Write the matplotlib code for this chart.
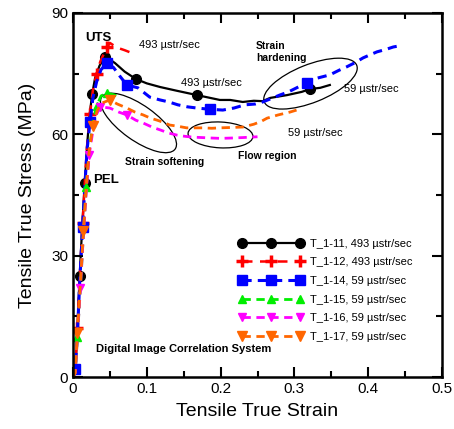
import matplotlib
matplotlib.use("Agg")
import matplotlib.pyplot as plt
import matplotlib.ticker as mt
from matplotlib.patches import Ellipse
from matplotlib.ticker import MultipleLocator

plt.rcParams['font.family'] = ['Liberation Sans', 'DejaVu Sans']

# T_1-11, 493 ustr/sec
strain_11 = [0, 0.003, 0.006, 0.009, 0.013, 0.016, 0.019, 0.022, 0.026, 0.030, 0.036, 0.043,
             0.050, 0.057, 0.070, 0.085, 0.100, 0.118, 0.140, 0.168, 0.199, 0.213, 0.230,
             0.245, 0.257, 0.267, 0.290, 0.310, 0.321, 0.335, 0.348]
stress_11 = [0, 1, 12, 25, 39, 48, 57, 64, 70, 74, 77, 79,
             78.5, 77.6, 75.5, 73.7, 72.6, 71.7, 70.8, 69.7, 68.5, 68.5, 68,
             68.3, 68.2, 69, 69.7, 70.5, 71.2, 71.5, 72.2]

# T_1-12, 493 ustr/sec
strain_12 = [0, 0.003, 0.006, 0.009, 0.013, 0.016, 0.019, 0.023, 0.027, 0.032, 0.037, 0.041,
             0.046, 0.050, 0.055, 0.062, 0.070, 0.077, 0.081]
stress_12 = [0, 2, 12, 24, 38, 48, 57, 65, 71, 75, 78, 79.6,
             81.5, 82.6, 82, 81.3, 80.8, 80.3, 80]

# T_1-14, 59 ustr/sec
strain_14 = [0, 0.003, 0.006, 0.009, 0.013, 0.016, 0.019, 0.023, 0.027, 0.032, 0.038, 0.046,
             0.055, 0.063, 0.073, 0.088, 0.104, 0.118, 0.130, 0.142, 0.155, 0.168, 0.185,
             0.203, 0.218, 0.233, 0.247, 0.257, 0.268, 0.280, 0.292, 0.303, 0.317, 0.331,
             0.348, 0.360, 0.371, 0.383, 0.393, 0.403, 0.412, 0.424, 0.434, 0.440]
stress_14 = [0, 2, 11, 23, 37, 47, 56, 63, 69, 73, 76, 77.6,
             76.5, 74.5, 72.2, 71.5, 69.2, 68.5, 68, 67.3, 66.8, 66.5, 66.2,
             66, 66.5, 67.3, 67.5, 68, 68.8, 69.7, 70.5, 71.5, 72.8, 73.9,
             74.7, 75.8, 76.7, 77.8, 78.9, 79.7, 80.4, 81, 81.6, 81.8]

# T_1-15, 59 ustr/sec
strain_15 = [0, 0.003, 0.006, 0.010, 0.014, 0.018, 0.022, 0.027, 0.032, 0.038, 0.046, 0.055, 0.064]
stress_15 = [0, 1, 10, 22, 35, 47, 56, 63, 67, 69.5, 70.2, 69.8, 69.2]

# T_1-16, 59 ustr/sec
strain_16 = [0, 0.003, 0.006, 0.010, 0.014, 0.018, 0.022, 0.027, 0.032, 0.037, 0.050, 0.062,
             0.073, 0.085, 0.095, 0.107, 0.118, 0.130, 0.141, 0.152, 0.163, 0.175, 0.186,
             0.200, 0.217, 0.230, 0.240, 0.250]
stress_16 = [0, 1, 10, 22, 35, 46, 55, 61, 65, 66.8, 66.5, 65.5,
             64.8, 63.5, 62.8, 61.8, 61.1, 60.3, 59.8, 59.5, 59.3, 59.2, 59.1,
             59, 59.1, 59.2, 59.3, 59.4]

# T_1-17, 59 ustr/sec
strain_17 = [0, 0.003, 0.006, 0.010, 0.014, 0.018, 0.022, 0.027, 0.033, 0.040, 0.050, 0.060,
             0.073, 0.084, 0.095, 0.105, 0.114, 0.122, 0.131, 0.142, 0.154, 0.165, 0.176,
             0.188, 0.199, 0.215, 0.230, 0.245, 0.255, 0.263, 0.278, 0.294, 0.303]
stress_17 = [0, 1, 11, 23, 36, 47, 56, 62, 66, 67.8, 68.5, 67.5,
             66.5, 65.5, 64.8, 64, 63.5, 63, 62.3, 62, 61.6, 61.6, 61.6,
             61.5, 61.6, 61.7, 61.8, 62.5, 63.2, 64, 64.8, 65.5, 66]

labels = ['T_1-11, 493 \u00b5str/sec', 'T_1-12, 493 \u00b5str/sec', 'T_1-14, 59 \u00b5str/sec',
          'T_1-15, 59 \u00b5str/sec', 'T_1-16, 59 \u00b5str/sec', 'T_1-17, 59 \u00b5str/sec']

fig = plt.figure(figsize=(4.54, 4.29), dpi=100)
ax = fig.add_axes([0.1608, 0.1212, 0.8128, 0.8485])

ax.plot(strain_11, stress_11, color='black', lw=1.6, marker='o', ms=7,
        markevery=[3, 5, 8, 11, 15, 19, 28], label=labels[0])
ax.plot(strain_12, stress_12, color='red', lw=1.8, ls=(0, (4, 3)), marker='+', ms=9, mew=2.5,
        markevery=[2, 4, 7, 9, 12], label=labels[1])
ax.plot(strain_14, stress_14, color='blue', lw=2.2, ls=(0, (3, 2)), marker='s', ms=7,
        markevery=[1, 4, 7, 11, 14, 22, 32], label=labels[2])
ax.plot(strain_15, stress_15, color='#00ee00', lw=2, ls=(0, (3, 2)), marker='^', ms=6,
        markevery=[2, 5, 8, 10], label=labels[3])
ax.plot(strain_16, stress_16, color='#ff00ff', lw=2, ls=(0, (3, 2)), marker='v', ms=6,
        markevery=[3, 6, 9, 12], label=labels[4])
ax.plot(strain_17, stress_17, color='#ff6600', lw=2, ls=(0, (3, 2)), marker='v', ms=7,
        markevery=[2, 4, 7, 10], label=labels[5])

ax.set_xlim(0, 0.5)
ax.set_ylim(0, 90)
ax.xaxis.set_major_locator(MultipleLocator(0.1))
ax.xaxis.set_minor_locator(MultipleLocator(0.05))
ax.yaxis.set_major_locator(MultipleLocator(30))
ax.yaxis.set_minor_locator(MultipleLocator(15))
ax.xaxis.set_major_formatter(mt.FuncFormatter(lambda v, p: '0' if abs(v) < 1e-9 else f'{v:.1f}'))
ax.tick_params(which='both', direction='in', top=True, right=True, width=1.5, labelsize=11)
ax.tick_params(which='major', length=7)
ax.tick_params(which='minor', length=4)
for s in ax.spines.values():
    s.set_linewidth(1.8)

ax.set_xlabel('Tensile True Strain', fontsize=14, labelpad=5)
ax.set_ylabel('Tensile True Stress (MPa)', fontsize=14, labelpad=11)

# annotations
ax.text(0.035, 83.8, 'UTS', fontsize=9.5, fontweight='bold', ha='center', va='center')
ax.text(0.027, 48.7, 'PEL', fontsize=9.5, fontweight='bold', ha='left', va='center')
ax.text(0.089, 82.1, '493 \u00b5str/sec', fontsize=8, va='center')
ax.text(0.146, 72.7, '493 \u00b5str/sec', fontsize=8, va='center')
ax.text(0.367, 71.2, '59 \u00b5str/sec', fontsize=8, va='center')
ax.text(0.291, 60.3, '59 \u00b5str/sec', fontsize=8, va='center')
ax.text(0.248, 80.3, 'Strain\nhardening', fontsize=7.5, fontweight='bold', va='center',
        linespacing=1.2)
ax.text(0.224, 54.6, 'Flow region', fontsize=7.5, fontweight='bold', va='center')
ax.text(0.070, 53.2, 'Strain softening', fontsize=7.5, fontweight='bold', va='center')
ax.text(0.031, 6.9, 'Digital Image Correlation System', fontsize=8, fontweight='bold', va='center')

ax.add_patch(Ellipse((0.1775, 0.698), 0.245, 0.096, angle=-36, transform=ax.transAxes,
                     fill=False, ec='black', lw=0.9))
ax.add_patch(Ellipse((0.3997, 0.665), 0.176, 0.071, angle=-3, transform=ax.transAxes,
                     fill=False, ec='black', lw=0.9))
ax.add_patch(Ellipse((0.6436, 0.806), 0.27, 0.104, angle=22, transform=ax.transAxes,
                     fill=False, ec='black', lw=0.9))

ax.legend(loc='upper left', bbox_to_anchor=(0.45, 0.38), frameon=False, fontsize=8,
          numpoints=3, handlelength=5.8, handletextpad=0.6, labelspacing=0.78,
          borderaxespad=0, borderpad=0)

fig.savefig('out.png', dpi=100)
